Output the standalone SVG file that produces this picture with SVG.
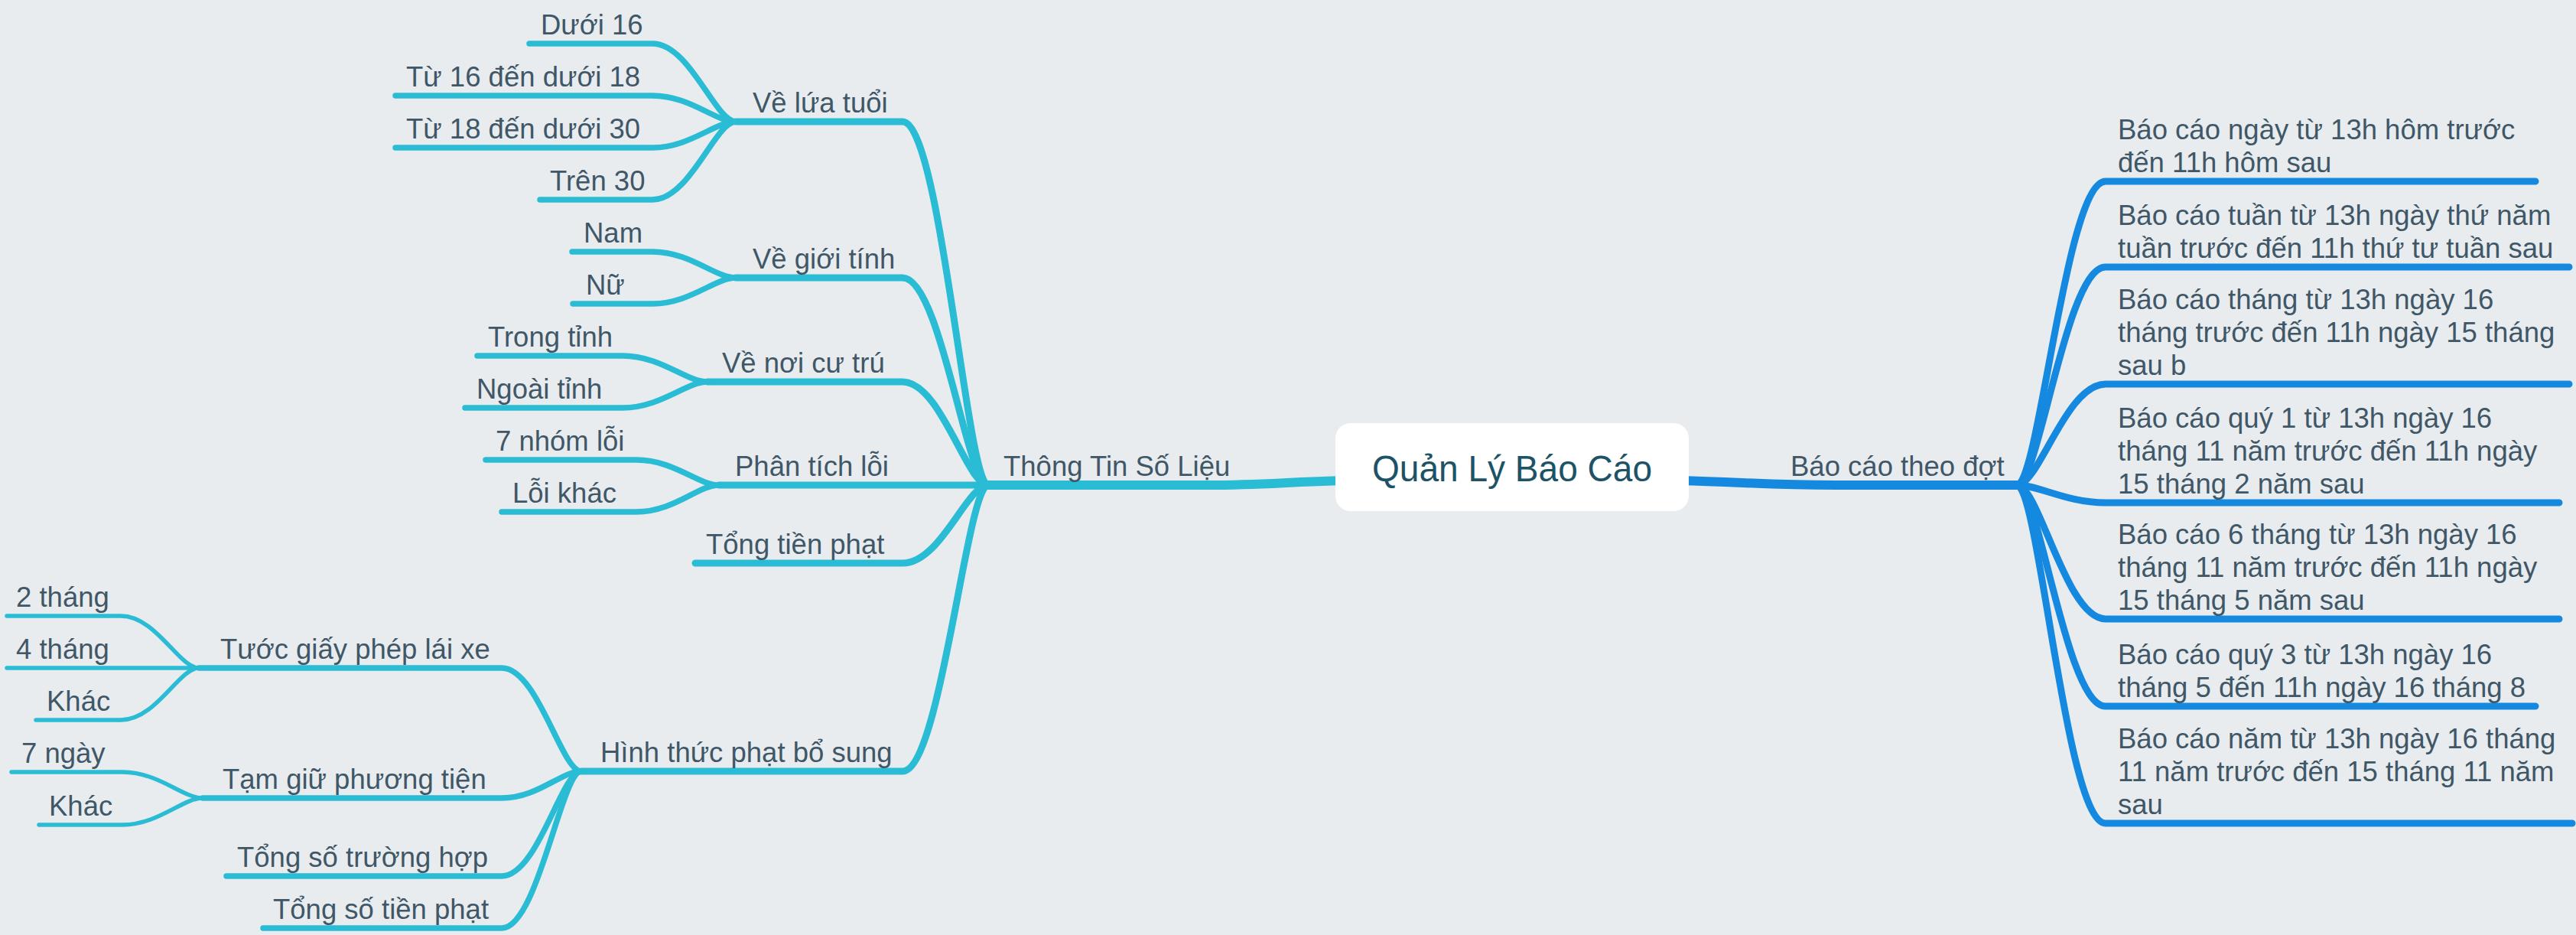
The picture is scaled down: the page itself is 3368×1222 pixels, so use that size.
<svg xmlns="http://www.w3.org/2000/svg" width="3368" height="1222" viewBox="0 0 3368 1222">
<style>
.bg{fill:#e8ecef}
.c{fill:none;stroke-linecap:round;stroke-linejoin:round}
.l{stroke:#29bcd4}
.r{stroke:#1489df}
.w1{stroke-width:12}
.w2{stroke-width:9}
.w3{stroke-width:7.5}
.w4{stroke-width:5.5}
text{font-family:"Liberation Sans",Arial,sans-serif;font-size:36.5px;fill:#405767}
.root{font-size:48px;fill:#1d5367}
</style>
<rect class="bg" x="0" y="0" width="3368" height="1222"/>
<g id="connectors">
<path class="c l w1" d="M1760,628 C1680,630 1650,634 1580,634 L1292,634"/>
<path class="c r w1" d="M2195,628 C2280,630 2310,634 2400,634 L2637,634"/>
<path class="c l w2" d="M1292,634 C1264,634 1230,159 1180,159 L962,159"/>
<path class="c l w2" d="M1292,634 C1264,634 1230,363 1180,363 L962,363"/>
<path class="c l w2" d="M1292,634 C1264,634 1230,499 1180,499 L925,499"/>
<path class="c l w2" d="M1292,634 L940,634"/>
<path class="c l w2" d="M1292,634 C1264,634 1230,736 1180,736 L909,736"/>
<path class="c l w2" d="M1292,634 C1264,634 1230,1008 1180,1008 L760,1008"/>
<path class="c l w3" d="M962,159 C935,159 902,57 853,57 L692,57"/>
<path class="c l w3" d="M962,159 C935,159 902,125 853,125 L517,125"/>
<path class="c l w3" d="M962,159 C935,159 902,193 853,193 L517,193"/>
<path class="c l w3" d="M962,159 C935,159 902,261 853,261 L706,261"/>
<path class="c l w3" d="M962,363 C935,363 902,329 853,329 L748,329"/>
<path class="c l w3" d="M962,363 C935,363 902,397 853,397 L749,397"/>
<path class="c l w3" d="M925,499 C897,499 864,465 814,465 L624,465"/>
<path class="c l w3" d="M925,499 C897,499 864,533 814,533 L608,533"/>
<path class="c l w3" d="M940,634 C913,634 881,601 832,601 L635,601"/>
<path class="c l w3" d="M940,634 C913,634 881,669 832,669 L656,669"/>
<path class="c l w3" d="M760,1008 C734,1008 703,873 656,873 L260,873"/>
<path class="c l w3" d="M760,1008 C734,1008 703,1043 656,1043 L265,1043"/>
<path class="c l w3" d="M760,1008 C734,1008 703,1145 656,1145 L296,1145"/>
<path class="c l w3" d="M760,1008 C734,1008 703,1213 656,1213 L344,1213"/>
<path class="c l w4" d="M260,873 C234,873 204,805 158,805 L9,805"/>
<path class="c l w4" d="M260,873 L9,873"/>
<path class="c l w4" d="M260,873 C234,873 204,941 158,941 L47,941"/>
<path class="c l w4" d="M265,1043 C239,1043 207,1009 160,1009 L15,1009"/>
<path class="c l w4" d="M265,1043 C239,1043 207,1078 160,1078 L51,1078"/>
<path class="c r w2" d="M2637,634 C2666,634 2701,237 2753,237 L3315,237"/>
<path class="c r w2" d="M2637,634 C2666,634 2701,349 2753,349 L3359,349"/>
<path class="c r w2" d="M2637,634 C2666,634 2701,502 2753,502 L3359,502"/>
<path class="c r w2" d="M2637,634 C2666,634 2701,657 2753,657 L3346,657"/>
<path class="c r w2" d="M2637,634 C2666,634 2701,809 2753,809 L3346,809"/>
<path class="c r w2" d="M2637,634 C2666,634 2701,923 2753,923 L3315,923"/>
<path class="c r w2" d="M2637,634 C2666,634 2701,1076 2753,1076 L3363,1076"/>
</g>
<g id="root">
<rect x="1746" y="553" width="462" height="115" rx="20" fill="#ffffff"/>
<text class="root" x="1977" y="629" text-anchor="middle" textLength="366" lengthAdjust="spacingAndGlyphs">Quản Lý Báo Cáo</text>
</g>
<g id="n-thongtin"><text x="1312" y="622">Thông Tin Số Liệu</text></g>
<g id="n-baocao"><text x="2341" y="622">Báo cáo theo đợt</text></g>
<g id="n-luatuoi"><text x="984" y="147">Về lứa tuổi</text></g>
<g id="n-gioitinh"><text x="984" y="351">Về giới tính</text></g>
<g id="n-noicutru"><text x="944" y="487">Về nơi cư trú</text></g>
<g id="n-phantich"><text x="961" y="622">Phân tích lỗi</text></g>
<g id="n-tongtien"><text x="923" y="724">Tổng tiền phạt</text></g>
<g id="n-hinhthuc"><text x="785" y="996">Hình thức phạt bổ sung</text></g>
<g id="n-duoi16"><text x="707" y="45">Dưới 16</text></g>
<g id="n-16-18"><text x="531" y="113">Từ 16 đến dưới 18</text></g>
<g id="n-18-30"><text x="531" y="181">Từ 18 đến dưới 30</text></g>
<g id="n-tren30"><text x="719" y="249">Trên 30</text></g>
<g id="n-nam"><text x="763" y="317">Nam</text></g>
<g id="n-nu"><text x="766" y="385">Nữ</text></g>
<g id="n-trongtinh"><text x="638" y="453">Trong tỉnh</text></g>
<g id="n-ngoaitinh"><text x="623" y="521">Ngoài tỉnh</text></g>
<g id="n-7nhom"><text x="648" y="589">7 nhóm lỗi</text></g>
<g id="n-loikhac"><text x="670" y="657">Lỗi khác</text></g>
<g id="n-tuocgiay"><text x="288" y="861">Tước giấy phép lái xe</text></g>
<g id="n-tamgiu"><text x="291" y="1031">Tạm giữ phương tiện</text></g>
<g id="n-tongso"><text x="310" y="1133">Tổng số trường hợp</text></g>
<g id="n-tongsotien"><text x="357" y="1201">Tổng số tiền phạt</text></g>
<g id="n-2thang"><text x="21" y="793">2 tháng</text></g>
<g id="n-4thang"><text x="21" y="861">4 tháng</text></g>
<g id="n-khac1"><text x="61" y="929">Khác</text></g>
<g id="n-7ngay"><text x="28" y="997">7 ngày</text></g>
<g id="n-khac2"><text x="64" y="1066">Khác</text></g>
<g id="n-c1"><text x="2769" y="182">Báo cáo ngày từ 13h hôm trước</text><text x="2769" y="225">đến 11h hôm sau</text></g>
<g id="n-c2"><text x="2769" y="294">Báo cáo tuần từ 13h ngày thứ năm</text><text x="2769" y="337">tuần trước đến 11h thứ tư tuần sau</text></g>
<g id="n-c3"><text x="2769" y="404">Báo cáo tháng từ 13h ngày 16</text><text x="2769" y="447">tháng trước đến 11h ngày 15 tháng</text><text x="2769" y="490">sau b</text></g>
<g id="n-c4"><text x="2769" y="559">Báo cáo quý 1 từ 13h ngày 16</text><text x="2769" y="602">tháng 11 năm trước đến 11h ngày</text><text x="2769" y="645">15 tháng 2 năm sau</text></g>
<g id="n-c5"><text x="2769" y="711">Báo cáo 6 tháng từ 13h ngày 16</text><text x="2769" y="754">tháng 11 năm trước đến 11h ngày</text><text x="2769" y="797">15 tháng 5 năm sau</text></g>
<g id="n-c6"><text x="2769" y="868">Báo cáo quý 3 từ 13h ngày 16</text><text x="2769" y="911">tháng 5 đến 11h ngày 16 tháng 8</text></g>
<g id="n-c7"><text x="2769" y="978">Báo cáo năm từ 13h ngày 16 tháng</text><text x="2769" y="1021">11 năm trước đến 15 tháng 11 năm</text><text x="2769" y="1064">sau</text></g>
</svg>
